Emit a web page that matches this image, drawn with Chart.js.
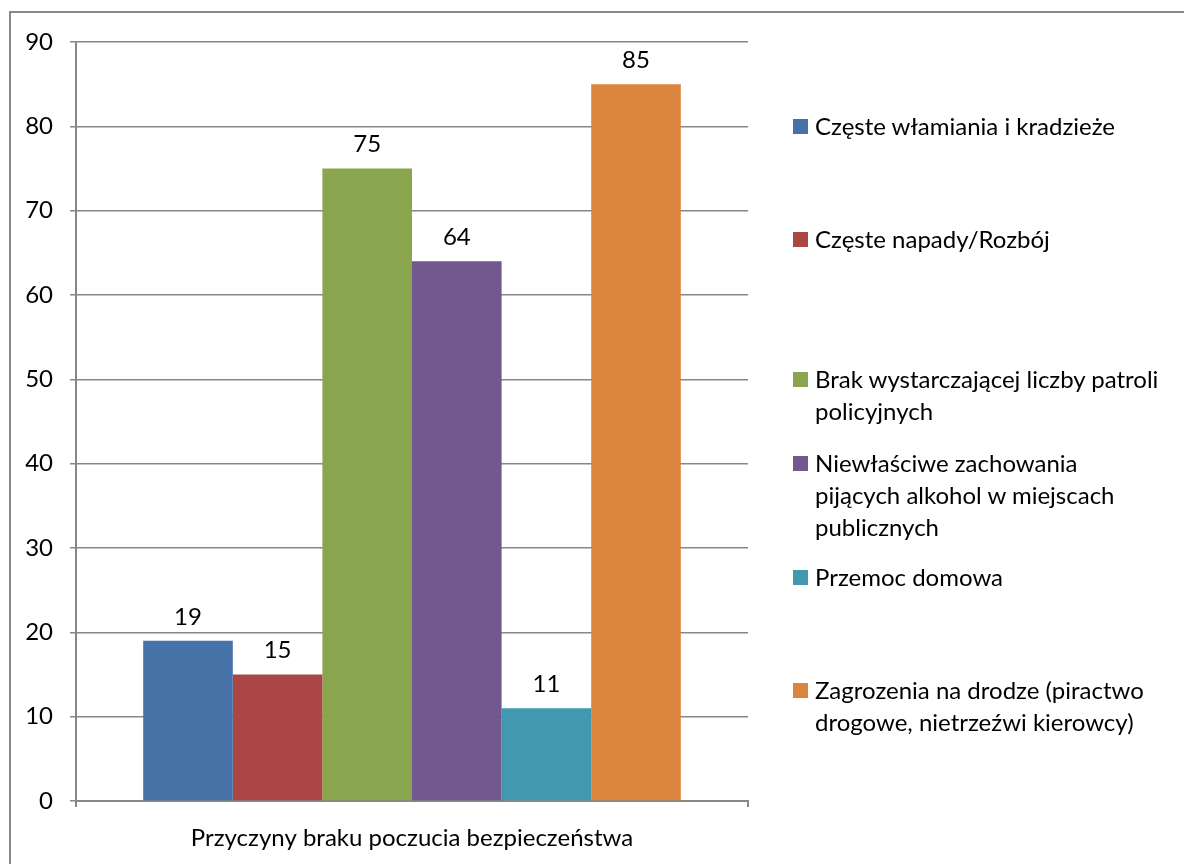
<!DOCTYPE html>
<html lang="pl">

<head>
    <meta charset="UTF-8">
    <title>Przyczyny braku poczucia bezpieczeństwa</title>
    <style>
        body { margin: 0; background: #fff; }
        #frame { position: absolute; left: 9px; top: 11px; width: 1200px; height: 900px; border: 2px solid #878787; }
        #wrap { position: absolute; left: 0; top: 0; width: 1184px; height: 864px; }
        #legend { position: absolute; left: 0; top: 0; font-family: Lato, "Open Sans", sans-serif; font-size: 24px; color: #000; }
        .item { position: absolute; left: 793px; line-height: 32px; white-space: pre-line; }
        .box { position: absolute; left: 0; top: 9px; width: 15px; height: 15px; }
        .txt { position: absolute; left: 22px; top: 0; width: 380px; }
    </style>
</head>

<body>
    <div id="frame"></div>
    <div id="wrap">
        <canvas id="myChart"></canvas>
    </div>
    <div id="legend"></div>

    <script src="https://cdn.jsdelivr.net/npm/chart.js"></script>

    <script>
        // dane z wykresu
        let v_category = ['Przyczyny braku poczucia bezpieczeństwa'];
        let v_names = [
            'Częste włamiania i kradzieże',
            'Częste napady/Rozbój',
            'Brak wystarczającej liczby patroli\npolicyjnych',
            'Niewłaściwe zachowania\npijących alkohol w miejscach\npublicznych',
            'Przemoc domowa',
            'Zagrozenia na drodze (piractwo\ndrogowe, nietrzeźwi kierowcy)'
        ];
        let v_values = [19, 15, 75, 64, 11, 85];
        let v_colors = ['#4572A7', '#AA4643', '#89A54E', '#71588F', '#4198AF', '#DB843D'];
        let v_yTicks = [0, 10, 20, 30, 40, 50, 60, 70, 80, 90];

        const FONT = 'Lato, "Open Sans", sans-serif';

        let v_datasets = [];
        for (let i = 0; i < v_names.length; i++) {
            v_datasets.push({
                label: v_names[i],
                data: [v_values[i]],
                backgroundColor: v_colors[i],
                borderWidth: 0
            });
        }

        // etykiety wartosci nad slupkami
        const valueLabels = {
            id: 'valueLabels',
            afterDatasetsDraw(chart) {
                const ctx = chart.ctx;
                ctx.save();
                ctx.font = '24px ' + FONT;
                ctx.fillStyle = '#000';
                ctx.textAlign = 'center';
                ctx.textBaseline = 'middle';
                chart.data.datasets.forEach((ds, i) => {
                    chart.getDatasetMeta(i).data.forEach((bar, j) => {
                        ctx.fillText(ds.data[j], bar.x, bar.y - 24);
                    });
                });
                ctx.restore();
            }
        };

        const ctx = document.getElementById('myChart');

        new Chart(ctx, {
            type: 'bar',
            data: {
                labels: v_category,
                datasets: v_datasets
            },
            options: {
                responsive: true,
                maintainAspectRatio: false,
                animation: false,
                layout: { padding: { top: 42, right: 436, left: 2, bottom: 0 } },
                datasets: { bar: { categoryPercentage: 0.8, barPercentage: 1.0 } },
                scales: {
                    x: {
                        grid: { drawOnChartArea: false, drawTicks: true, tickLength: 6, color: '#878787', lineWidth: 2 },
                        border: { color: '#878787', width: 2 },
                        ticks: { color: '#000', font: { size: 24, family: FONT }, padding: 17 },
                        afterFit(scale) { scale.height = 63; }
                    },
                    y: {
                        min: 0,
                        max: 90,
                        afterBuildTicks(scale) { scale.ticks = v_yTicks.map(v => ({ value: v })); },
                        grid: { color: '#878787', lineWidth: 1.5, tickLength: 6 },
                        border: { color: '#878787', width: 2 },
                        ticks: { color: '#000', font: { size: 24, family: FONT }, padding: 17 },
                        afterFit(scale) { scale.width = 74; }
                    }
                },
                plugins: {
                    legend: { display: false },
                    tooltip: { enabled: false }
                }
            },
            plugins: [valueLabels]
        });

        // legenda po prawej (jak w Excelu)
        let v_legendTop = [110, 223, 363, 447, 561, 674];
        let legend = document.getElementById('legend');
        for (let i = 0; i < v_names.length; i++) {
            let item = document.createElement('div');
            item.className = 'item';
            item.style.top = v_legendTop[i] + 'px';
            item.innerHTML = '<div class="box" style="background:' + v_colors[i] + '"></div><div class="txt"></div>';
            item.querySelector('.txt').textContent = v_names[i];
            legend.appendChild(item);
        }
    </script>
</body>

</html>
